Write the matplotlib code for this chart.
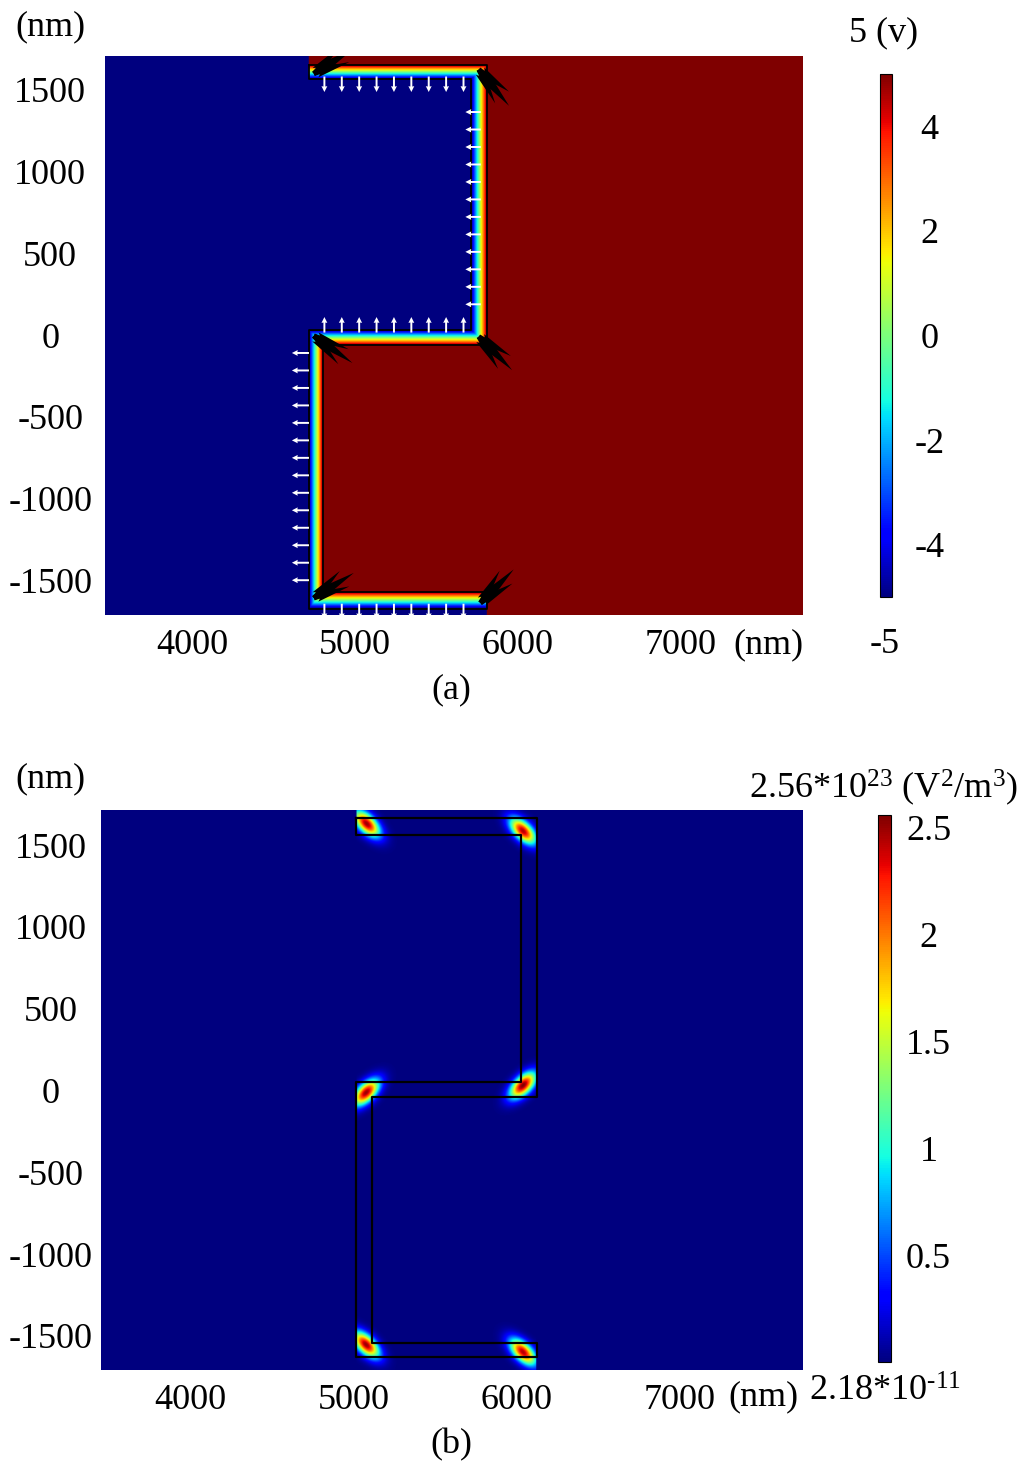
import numpy as np
import matplotlib
matplotlib.use("Agg")
import matplotlib.pyplot as plt

plt.rcParams['font.family'] = ['Liberation Serif', 'DejaVu Serif']
plt.rcParams['mathtext.fontset'] = 'custom'
plt.rcParams['mathtext.rm'] = 'Liberation Serif'
plt.rcParams['mathtext.it'] = 'Liberation Serif'
plt.rcParams['axes.unicode_minus'] = False

# ---------------------------------------------------------------
# data
# ---------------------------------------------------------------
# panel (a): electric potential (V)
xlim_a = [3460, 7755]
ylim_a = [-1714, 1708]
# "2"-shaped layer edges (nm): left outer, left inner, right inner, right outer
strip_x_a = [4715, 4800, 5715, 5810]
# bottom strip (bottom, top), middle strip (bottom, top), top strip (bottom, top)
strip_y_a = [-1675, -1575, -60, 30, 1570, 1655]
v_min, v_max = -5, 5
cbar_ticks_a = [4, 2, 0, -2, -4]

# small white field arrows, spacing along the layer (nm)
arrow_step = 107
arrow_len = 95

# big black arrows at the corners: x, y, direction angle (deg)
corner_x_a = [4745, 5760, 5760, 4745, 4745, 5770]
corner_y_a = [1600, 1625, -10, -5, -1610, -1640]
corner_ang_a = [32, -50, -45, -35, 32, 45]

# panel (b): electric energy density (1e23 V^2/m^3)
xlim_b = [3454, 7755]
ylim_b = [-1708, 1714]
strip_x_b = [5018, 5115, 6030, 6123]
strip_y_b = [-1628, -1543, -37, 49, 1561, 1665]
hot_x = [5082, 6040, 6040, 5078, 5078, 6040]
hot_y = [1632, 1588, 32, -12, -1555, -1600]
hot_peak = [2.50, 2.45, 2.56, 2.50, 2.50, 2.45]
hot_tilt = [-1, -1, 1, 1, -1, -1]     # -1: "\" ,  +1: "/"
w_min, w_max = 2.18e-11, 2.56
cbar_ticks_b = [2.5, 2, 1.5, 1, 0.5]

xticks = [4000, 5000, 6000, 7000]
yticks = [1500, 1000, 500, 0, -500, -1000, -1500]


def ramp(t, a, b):
    return np.clip((t - a) / (b - a), 0, 1)


def outline(sx, sy):
    xlo, xli, xri, xro = sx
    ybb, ybt, ymb, ymt, ytb, ytt = sy
    px = [xlo, xro, xro, xli, xli, xro, xro, xlo, xlo, xri, xri, xlo, xlo]
    py = [ytt, ytt, ymb, ymb, ybt, ybt, ybb, ybb, ymt, ymt, ytb, ytb, ytt]
    return px, py


# ---------------------------------------------------------------
# potential field for (a)
# ---------------------------------------------------------------
xa = np.linspace(xlim_a[0], xlim_a[1], 1000)
ya = np.linspace(ylim_a[0], ylim_a[1], 800)
X, Y = np.meshgrid(xa, ya)
xlo, xli, xri, xro = strip_x_a
ybb, ybt, ymb, ymt, ytb, ytt = strip_y_a

# 0 = blue side, 1 = red side
F = np.ones(X.shape)
blue = (X < xlo) | ((X < xri) & (Y > ymt) & (Y < ytb)) | ((Y < ybb) & (X < xro))
F[blue] = 0.0

rx_l = ramp(X, xlo, xli)
rx_r = ramp(X, xri, xro)
ry_t = ramp(Y, ytb, ytt)
ry_m = ramp(Y, ymt, ymb)
ry_b = ramp(Y, ybb, ybt)

inx = (X >= xlo) & (X <= xro)
m = inx & (Y >= ytb) & (Y <= ytt)
F[m] = ry_t[m]
m = inx & (Y >= ymb) & (Y <= ymt)
F[m] = ry_m[m]
m = inx & (Y >= ybb) & (Y <= ybt)
F[m] = ry_b[m]
m = (X >= xri) & (X <= xro) & (Y > ymt) & (Y < ytb)
F[m] = rx_r[m]
m = (X >= xlo) & (X <= xli) & (Y > ybt) & (Y < ymb)
F[m] = rx_l[m]
m = (X >= xri) & (X <= xro) & (Y >= ytb) & (Y <= ytt)
F[m] = np.maximum(rx_r, ry_t)[m]
m = (X >= xri) & (X <= xro) & (Y >= ymb) & (Y <= ymt)
F[m] = np.maximum(rx_r, ry_m)[m]
m = (X >= xlo) & (X <= xli) & (Y >= ymb) & (Y <= ymt)
F[m] = np.minimum(rx_l, ry_m)[m]
m = (X >= xlo) & (X <= xli) & (Y >= ybb) & (Y <= ybt)
F[m] = np.minimum(rx_l, ry_b)[m]

V = v_min + (v_max - v_min) * F

# ---------------------------------------------------------------
# energy density field for (b)
# ---------------------------------------------------------------
xb = np.linspace(xlim_b[0], xlim_b[1], 1000)
yb = np.linspace(ylim_b[0], ylim_b[1], 800)
XB, YB = np.meshgrid(xb, yb)
W = np.zeros(XB.shape)
for hx, hy, hp, ht in zip(hot_x, hot_y, hot_peak, hot_tilt):
    u = ((XB - hx) + ht * (YB - hy)) / np.sqrt(2)
    v = ((XB - hx) - ht * (YB - hy)) / np.sqrt(2)
    W += hp * np.exp(-0.5 * ((u / 70) ** 2 + (v / 36) ** 2))
W[(XB < strip_x_b[0]) | (XB > strip_x_b[3])] = 0.0
W = np.clip(W, w_min, w_max)

# ---------------------------------------------------------------
# figure
# ---------------------------------------------------------------
fig = plt.figure(figsize=(10.24, 14.73), dpi=100)
FS = 26

ax1 = fig.add_axes([105 / 1024, 1 - 615 / 1473, 698 / 1024, 559 / 1473])
im1 = ax1.imshow(V, extent=[xlim_a[0], xlim_a[1], ylim_a[0], ylim_a[1]],
                 origin='lower', cmap='jet', vmin=v_min, vmax=v_max,
                 aspect='auto', interpolation='bilinear')
px, py = outline(strip_x_a, strip_y_a)
ax1.plot(px, py, color='black', lw=1.3)

# white arrows along the layer (E = -grad V, pointing into the blue side)
ax_, ay_, au, av = [], [], [], []
for xx in np.arange(xlo + 95, xri - 30, arrow_step):
    ax_ += [xx, xx, xx]
    ay_ += [(ytb + ytt) / 2 - 30, (ymb + ymt) / 2 + 30, (ybb + ybt) / 2 - 20]
    au += [0, 0, 0]
    av += [-arrow_len, arrow_len, -arrow_len]
for yy in np.arange(ytb - 205, ymt + 150, -arrow_step):
    ax_.append((xri + xro) / 2 + 10)
    ay_.append(yy)
    au.append(-arrow_len)
    av.append(0)
for yy in np.arange(ymb - 50, ybt + 60, -arrow_step):
    ax_.append(xlo)
    ay_.append(yy)
    au.append(-arrow_len - 10)
    av.append(0)
ax1.quiver(ax_, ay_, au, av, angles='xy', scale_units='xy', scale=1,
           color='white', width=0.0028, headwidth=3, headlength=3,
           headaxislength=2.8, zorder=3)

# black arrows at the corners
bx, by, bu, bv = [], [], [], []
for cx, cy, ca in zip(corner_x_a, corner_y_a, corner_ang_a):
    for k, d in enumerate([-14, 0, 14]):
        a = np.deg2rad(ca + d)
        L = 290 - 60 * abs(k - 1)
        bx.append(cx)
        by.append(cy)
        bu.append(L * np.cos(a))
        bv.append(L * np.sin(a))
ax1.quiver(bx, by, bu, bv, angles='xy', scale_units='xy', scale=1,
           color='black', width=0.007, headwidth=2.0, headlength=7,
           headaxislength=6.5, zorder=4)

ax2 = fig.add_axes([101 / 1024, 1 - 1370 / 1473, 702 / 1024, 560 / 1473])
im2 = ax2.imshow(W, extent=[xlim_b[0], xlim_b[1], ylim_b[0], ylim_b[1]],
                 origin='lower', cmap='jet', vmin=w_min, vmax=w_max,
                 aspect='auto', interpolation='bilinear')
px, py = outline(strip_x_b, strip_y_b)
ax2.plot(px, py, color='black', lw=1.6)

for ax, xl, yl, ypad in [(ax1, xlim_a, ylim_a, 39.5), (ax2, xlim_b, ylim_b, 36)]:
    ax.set_xlim(xl)
    ax.set_ylim(yl)
    ax.set_xticks(xticks)
    ax.set_yticks(yticks)
    ax.tick_params(length=0, labelsize=FS)
    ax.tick_params(axis='x', pad=10)
    ax.tick_params(axis='y', pad=ypad)
    for lbl in ax.get_yticklabels():
        lbl.set_ha('center')
    for s in ax.spines.values():
        s.set_visible(False)

# colorbars
cax1 = fig.add_axes([880 / 1024, 1 - 597 / 1473, 12 / 1024, 523 / 1473])
cb1 = fig.colorbar(im1, cax=cax1)
cb1.set_ticks(cbar_ticks_a)
cax2 = fig.add_axes([878 / 1024, 1 - 1362 / 1473, 13 / 1024, 547 / 1473])
cb2 = fig.colorbar(im2, cax=cax2)
cb2.set_ticks(cbar_ticks_b)
cb2.set_ticklabels(['2.5', '2', '1.5', '1', '0.5'])
for cb in (cb1, cb2):
    cb.outline.set_linewidth(0.8)
    cb.ax.tick_params(length=0, labelsize=FS, pad=27)
    for lbl in cb.ax.get_yticklabels():
        lbl.set_ha('center')

# labels
fig.text(50 / 1024, 1 - 27 / 1473, '(nm)', fontsize=FS, ha='center', va='center')
fig.text(884 / 1024, 1 - 33 / 1473, '5 (v)', fontsize=FS, ha='center', va='center')
fig.text(885 / 1024, 1 - 645 / 1473, '-5', fontsize=FS, ha='center', va='center')
fig.text(768 / 1024, 1 - 645 / 1473, '(nm)', fontsize=FS, ha='center', va='center')
fig.text(451 / 1024, 1 - 690 / 1473, '(a)', fontsize=FS, ha='center', va='center')

fig.text(50 / 1024, 1 - 779 / 1473, '(nm)', fontsize=FS, ha='center', va='center')
fig.text(884 / 1024, 1 - 788 / 1473, r'2.56*10$^{23}$ (V$^2$/m$^3$)', fontsize=FS,
         ha='center', va='center')
fig.text(763 / 1024, 1 - 1397 / 1473, '(nm)', fontsize=FS, ha='center', va='center')
fig.text(885 / 1024, 1 - 1392 / 1473, r'2.18*10$^{\text{-11}}$', fontsize=FS,
         ha='center', va='center')
fig.text(451 / 1024, 1 - 1445 / 1473, '(b)', fontsize=FS, ha='center', va='center')

fig.savefig('out.png', dpi=100)
